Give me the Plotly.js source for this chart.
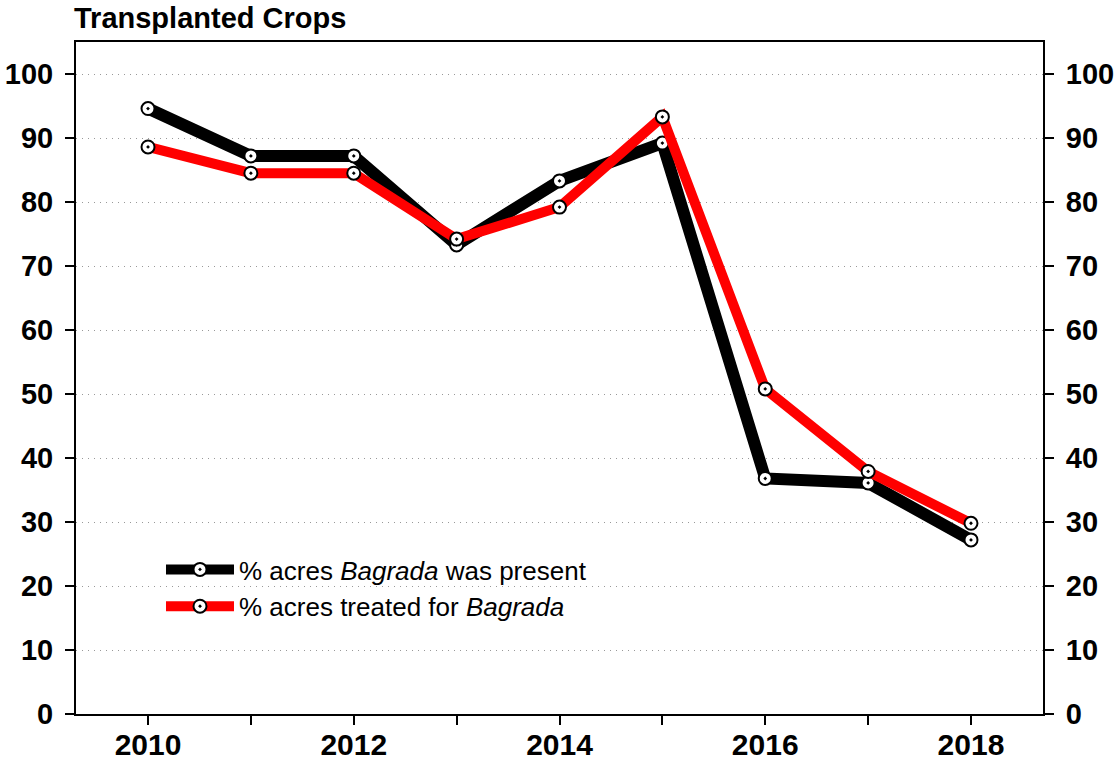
<!DOCTYPE html>
<html>
<head>
<meta charset="utf-8">
<script src="https://cdn.plot.ly/plotly-3.0.1.min.js"></script>
<style>html,body{margin:0;padding:0;background:#fff;}#chart{width:1118px;height:761px;}</style>
</head>
<body>
<div id="chart"></div>
<script>
const years = [2010, 2011, 2012, 2013, 2014, 2015, 2016, 2017, 2018];
const presentPct = [94.6, 87.2, 87.2, 73.3, 83.3, 89.2, 36.8, 36.1, 27.2];
const treatedPct = [88.6, 84.5, 84.5, 74.2, 79.2, 93.3, 50.8, 37.9, 29.8];
const yTicks = [0, 10, 20, 30, 40, 50, 60, 70, 80, 90, 100];
const xTicks = [2010, 2012, 2014, 2016, 2018];
const seriesNames = ['% acres <i>Bagrada</i> was present', '% acres treated for <i>Bagrada</i>'];
const chartTitle = 'Transplanted Crops';

const font = 'Liberation Sans, Arial, sans-serif';
const markerStyle = {symbol: 'circle-dot', size: 13, color: '#ffffff', line: {color: '#000000', width: 2}};

const traces = [
  {x: years, y: presentPct, name: seriesNames[0], mode: 'lines+markers',
   line: {color: '#000000', width: 12}, marker: markerStyle},
  {x: years, y: treatedPct, name: seriesNames[1], mode: 'lines+markers',
   line: {color: '#ff0000', width: 10}, marker: markerStyle},
  {x: years, y: treatedPct, yaxis: 'y2', mode: 'lines', showlegend: false,
   hoverinfo: 'skip', line: {color: 'rgba(0,0,0,0)', width: 0}}
];

const yaxisCommon = {
  range: [0, 105], tickvals: yTicks, ticks: 'outside', ticklen: 9, tickwidth: 2,
  tickcolor: '#000', showline: true, linecolor: '#000', linewidth: 2,
  tickfont: {family: font, size: 29, color: '#000', weight: 'bold'},
  zeroline: false, fixedrange: true
};

const layout = {
  width: 1118, height: 761,
  margin: {l: 76, r: 75, t: 42, b: 47},
  paper_bgcolor: '#ffffff', plot_bgcolor: '#ffffff',
  title: {text: '<b>' + chartTitle + '</b>', x: 0, xref: 'paper', xanchor: 'left', y: 1, yref: 'container', yanchor: 'top', pad: {t: 8, l: -2},
          font: {family: font, size: 29, color: '#000'}},
  xaxis: {
    range: [2009.3, 2018.7], tickvals: years, ticktext: years.map(y => xTicks.includes(y) ? String(y) : ''),
    ticks: 'outside', ticklen: 9, tickwidth: 2, tickcolor: '#000',
    showline: true, linecolor: '#000', linewidth: 2, mirror: true, showgrid: false, zeroline: false,
    tickfont: {family: font, size: 30, color: '#000', weight: 'bold'}, ticklabelstandoff: -6
  },
  yaxis: Object.assign({}, yaxisCommon, {
    showgrid: true, gridcolor: '#999999', gridwidth: 1, griddash: '1px,5px', side: 'left', ticklabelstandoff: 6
  }),
  yaxis2: Object.assign({}, yaxisCommon, {
    overlaying: 'y', side: 'right', showgrid: false, ticklabelstandoff: 6
  }),
  legend: {
    x: 0.0879, y: 0.25, xanchor: 'left', yanchor: 'top', bgcolor: 'rgba(0,0,0,0)',
    font: {family: font, size: 26, color: '#000'}, itemwidth: 68, tracegroupgap: 0
  },
  showlegend: true
};

Plotly.newPlot('chart', traces, layout, {displayModeBar: false, staticPlot: true});
</script>
</body>
</html>
